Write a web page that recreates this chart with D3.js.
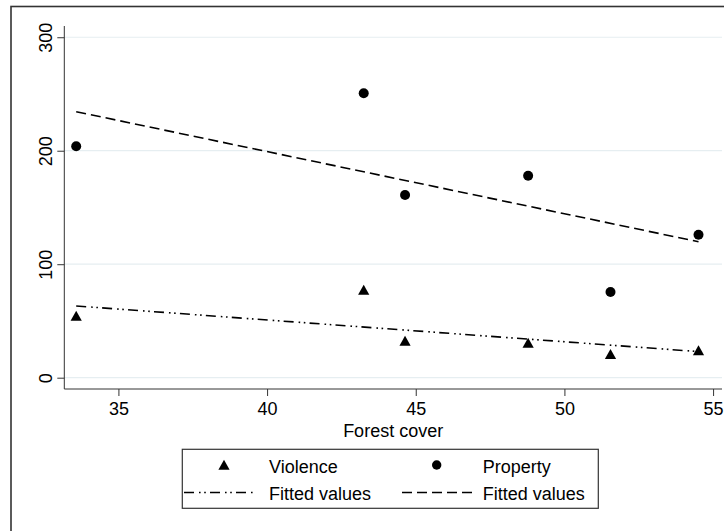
<!DOCTYPE html>
<html>
<head>
<meta charset="utf-8">
<script src="https://cdn.jsdelivr.net/npm/d3@7"></script>
<style>
  html, body { margin: 0; padding: 0; background: #fff; }
  svg { display: block; }
  text { font-family: "Liberation Sans", Arial, sans-serif; fill: #000; }
</style>
</head>
<body>
<svg id="chart" width="724" height="531"></svg>
<script>
// ---- Data ----
const forestCover = [33.58, 43.25, 44.64, 48.78, 51.55, 54.51];
const violence    = [54.4, 77.3, 32.3, 30.6, 20.6, 24.1];
const property    = [204, 250.6, 161, 178, 75.5, 126];
// Fitted-value lines: endpoints read at the min and max forest cover
const fitX            = [33.58, 54.51];
const violenceFit     = [63.2, 23.0];
const propertyFit     = [234.4, 119.8];
const xTicks = [35, 40, 45, 50, 55];
const yTicks = [0, 100, 200, 300];
const legendLabels = ["Violence", "Property", "Fitted values", "Fitted values"];

// ---- Layout ----
const svg = d3.select("#chart");
const plot = { left: 64.3, right: 722, top: 26, bottom: 389 };
const x = d3.scaleLinear().domain([33.18, 55.3]).range([plot.left, plot.right]);
const y = d3.scaleLinear().domain([-9.96, 309.9]).range([plot.bottom, plot.top]);

const FS = 18;

// outer frame (right/bottom fall outside the window)
svg.append("rect").attr("x", 11).attr("y", 6.5).attr("width", 740).attr("height", 540)
  .attr("fill", "none").attr("stroke", "#333").attr("stroke-width", 1.6);

// gridlines
svg.append("g").selectAll("line").data(yTicks).join("line")
  .attr("x1", plot.left).attr("x2", plot.right)
  .attr("y1", d => y(d)).attr("y2", d => y(d))
  .attr("stroke", "#e6eef1").attr("stroke-width", 1.2);

// y axis
const yAxis = svg.append("g").attr("transform", `translate(${plot.left},0)`)
  .call(d3.axisLeft(y).tickValues(yTicks).tickSize(7).tickSizeOuter(0).tickFormat(d3.format("d")));
yAxis.select(".domain").attr("d", `M0,${plot.top}V${plot.bottom}`).attr("stroke", "#333");
yAxis.selectAll(".tick line").attr("stroke", "#333");
yAxis.selectAll(".tick text")
  .attr("x", null).attr("dy", null)
  .attr("transform", "translate(-12.5,0) rotate(-90)")
  .attr("text-anchor", "middle")
  .style("font-size", FS + "px").style("font-family", '"Liberation Sans", Arial, sans-serif').attr("fill", "#000");

// x axis
const xAxis = svg.append("g").attr("transform", `translate(0,${plot.bottom})`)
  .call(d3.axisBottom(x).tickValues(xTicks).tickSize(7).tickSizeOuter(0).tickFormat(d3.format("d")));
xAxis.select(".domain").attr("d", `M${plot.left},0H${plot.right}`).attr("stroke", "#333");
xAxis.selectAll(".tick line").attr("stroke", "#333");
xAxis.selectAll(".tick text")
  .attr("y", 25.5).attr("dy", null)
  .style("font-size", FS + "px").style("font-family", '"Liberation Sans", Arial, sans-serif').attr("fill", "#000");

// x title
svg.append("text").attr("x", (plot.left + plot.right) / 2 + 0).attr("y", 436.5)
  .attr("text-anchor", "middle").style("font-size", FS + "px").text("Forest cover");

// fitted lines
const line = d3.line().x(d => x(d[0])).y(d => y(d[1]));
const VDASH = "10,5,1.6,3.6,1.6,4.2";
const PDASH = "10,5";
svg.append("path").datum(d3.zip(fitX, violenceFit)).attr("d", line)
  .attr("fill", "none").attr("stroke", "#000").attr("stroke-width", 1.6).attr("stroke-dasharray", VDASH);
svg.append("path").datum(d3.zip(fitX, propertyFit)).attr("d", line)
  .attr("fill", "none").attr("stroke", "#000").attr("stroke-width", 1.6).attr("stroke-dasharray", PDASH);

// markers
const tri = "M0,-5.2L5.6,4.8L-5.6,4.8Z";
svg.append("g").selectAll("path").data(d3.zip(forestCover, violence)).join("path")
  .attr("d", tri).attr("transform", d => `translate(${x(d[0])},${y(d[1])})`).attr("fill", "#000");
svg.append("g").selectAll("circle").data(d3.zip(forestCover, property)).join("circle")
  .attr("cx", d => x(d[0])).attr("cy", d => y(d[1])).attr("r", 5).attr("fill", "#000");

// legend
const lg = svg.append("g");
lg.append("rect").attr("x", 182.3).attr("y", 449.3).attr("width", 416).attr("height", 59)
  .attr("fill", "#fff").attr("stroke", "#333").attr("stroke-width", 1.2);
lg.append("path").attr("d", tri).attr("transform", "translate(224,465)").attr("fill", "#000");
lg.append("circle").attr("cx", 436.7).attr("cy", 465).attr("r", 4.7).attr("fill", "#000");
lg.append("line").attr("x1", 184).attr("x2", 256).attr("y1", 492.5).attr("y2", 492.5)
  .attr("stroke", "#000").attr("stroke-width", 1.6).attr("stroke-dasharray", VDASH);
lg.append("line").attr("x1", 402).attr("x2", 472).attr("y1", 492.5).attr("y2", 492.5)
  .attr("stroke", "#000").attr("stroke-width", 1.6).attr("stroke-dasharray", PDASH);
const lpos = [[269, 473], [482.7, 473], [269, 499.5], [482.7, 499.5]];
lg.selectAll("text.lbl").data(legendLabels).join("text").attr("class", "lbl")
  .attr("x", (d, i) => lpos[i][0]).attr("y", (d, i) => lpos[i][1])
  .style("font-size", FS + "px").text(d => d);
</script>
</body>
</html>
